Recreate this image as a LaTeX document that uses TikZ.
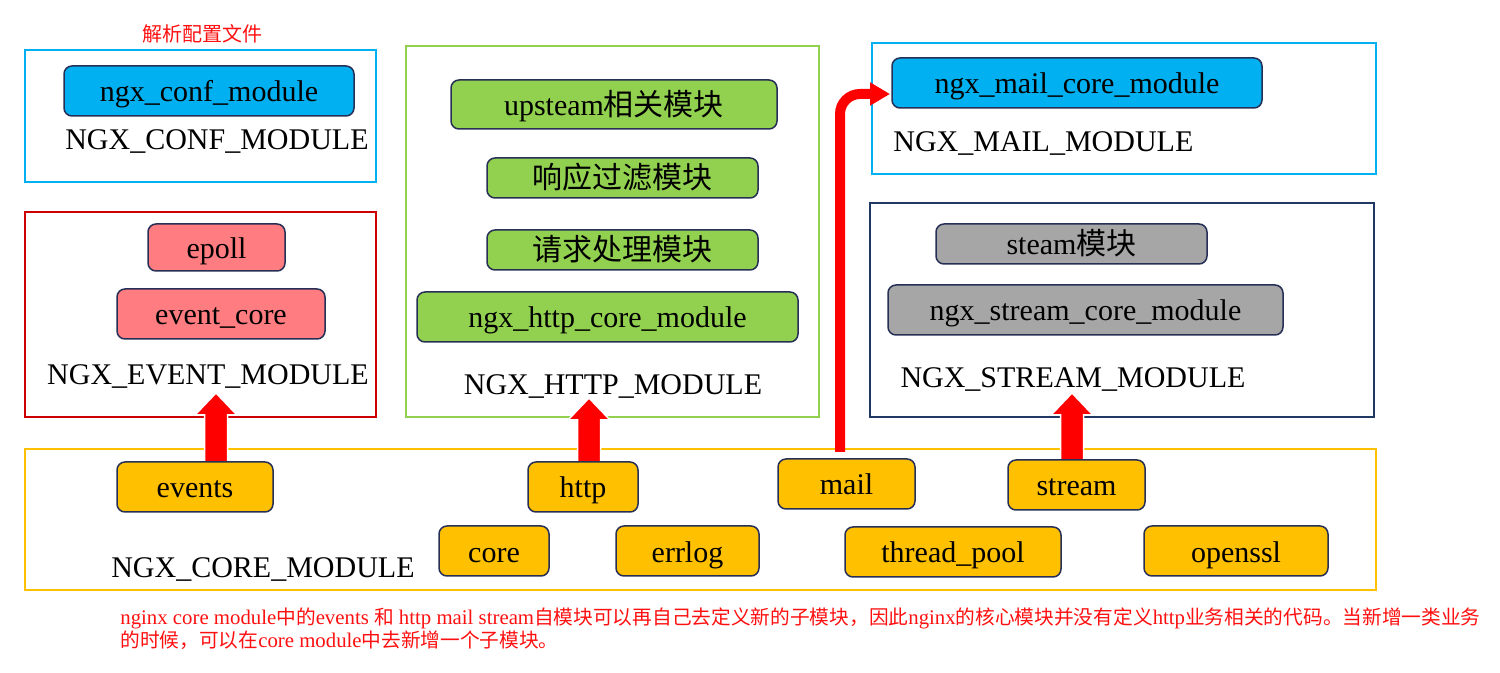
\documentclass[tikz,border=0pt]{standalone}
\usepackage{fontspec}
\setmainfont{Liberation Serif}
\newfontfamily\cjk{Noto Sans CJK SC}
\newfontfamily\notecjk{Noto Sans CJK SC}[Scale=0.947]
\newfontfamily\notelat{Liberation Serif}
\usetikzlibrary{calc,arrows.meta}
\definecolor{cyanf}{HTML}{00B0F0}
\definecolor{greenf}{HTML}{92D050}
\definecolor{pinkf}{HTML}{FF7C80}
\definecolor{grayf}{HTML}{A6A6A6}
\definecolor{goldf}{HTML}{FFC000}
\definecolor{navyb}{HTML}{262F55}
\definecolor{redb}{HTML}{CC0000}
\definecolor{streamb}{HTML}{203864}
\definecolor{notered}{HTML}{FF1010}
\newcommand\zh[1]{{\cjk #1}}
\newcommand\nz[1]{{\notecjk #1}}
\newcommand\la[1]{{\notelat #1}}
\newcommand\barrow[2]{%
  \path[fill=red, draw=white, line width=0.75pt] let \p1=(#1), \p2=(#2) in
    (\x1-5.75pt,\y1) -- (\x1-5.75pt,\y2-11pt) -- (\x1-10.5pt,\y2-11pt) -- (\x1,\y2)
    -- (\x1+10.5pt,\y2-11pt) -- (\x1+5.75pt,\y2-11pt) -- (\x1+5.75pt,\y1) -- cycle;}
\begin{document}
\begin{tikzpicture}[x=0.5pt,y=-0.5pt,
  mod/.style={draw=navyb, line width=0.75pt, rounded corners=4pt, inner sep=0pt,
    font=\fontsize{15}{18}\selectfont, text=black, text height=12pt, text depth=1pt},
  contbox/.style={draw, line width=1pt, inner sep=0pt},
  lbl/.style={font=\fontsize{15}{18}\selectfont, inner sep=0pt, text height=12pt, text depth=1pt},
  corem/.style={mod, fill=goldf, minimum height=25pt},
  mailarrow/.style={draw=red, line width=5pt, rounded corners=10pt,
    -{Triangle[width=11pt,length=10pt]}}
]
\useasboundingbox (0,0) rectangle (1500,673);
% containers
\node[contbox, draw=cyanf, minimum width=175.5pt, minimum height=66pt] (confbox) at (200.5,116) {};
\node[contbox, draw=redb, minimum width=175.5pt, minimum height=102.5pt] (eventbox) at (200.5,314.5) {};
\node[contbox, draw=greenf, minimum width=206.5pt, minimum height=185.5pt] (httpbox) at (612.5,231.5) {};
\node[contbox, draw=cyanf, minimum width=252pt, minimum height=65.5pt] (mailbox) at (1124,108.5) {};
\node[contbox, draw=streamb, minimum width=252pt, minimum height=107pt] (streambox) at (1122,310) {};
\node[contbox, draw=goldf, minimum width=675.5pt, minimum height=70.5pt] (corebox) at (700.5,519.5) {};
% title
\node[inner sep=0pt, text=notered, font=\cjk\fontsize{10}{12}\selectfont] (title) at (202,34) {解析配置文件};
% conf
\node[mod, fill=cyanf, minimum width=145pt, minimum height=25pt] (conf) at (209,91) {ngx\_conf\_module};
\node[lbl] (conflbl) at (217,139) {NGX\_CONF\_MODULE};
% event
\node[mod, fill=pinkf, minimum width=68.5pt, minimum height=23.5pt] (epoll) at (216.5,247.5) {epoll};
\node[mod, fill=pinkf, minimum width=104pt, minimum height=25pt] (evcore) at (221,314) {event\_core};
\node[lbl] (eventlbl) at (208,374) {NGX\_EVENT\_MODULE};
% http
\node[mod, fill=greenf, minimum width=163pt, minimum height=24.5pt] (upstream) at (614,104.5) {upsteam\zh{相关模块}};
\node[mod, fill=greenf, minimum width=135.5pt, minimum height=20pt] (filter) at (622.5,178) {\zh{响应过滤模块}};
\node[mod, fill=greenf, minimum width=135.5pt, minimum height=20pt] (reqproc) at (622.5,250) {\zh{请求处理模块}};
\node[mod, fill=greenf, minimum width=190.5pt, minimum height=25pt] (httpcore) at (607.5,317) {ngx\_http\_core\_module};
\node[lbl] (httplbl) at (613,384) {NGX\_HTTP\_MODULE};
% mail
\node[mod, fill=cyanf, minimum width=185pt, minimum height=25pt] (mailcore) at (1077,83) {ngx\_mail\_core\_module};
\node[lbl, anchor=west] (maillbl) at (893,141) {NGX\_MAIL\_MODULE};
% stream
\node[mod, fill=grayf, minimum width=135.5pt, minimum height=20pt] (steam) at (1071.5,244) {steam\zh{模块}};
\node[mod, fill=grayf, minimum width=197.5pt, minimum height=25pt] (streamcore) at (1085.5,310) {ngx\_stream\_core\_module};
\node[lbl] (streamlbl) at (1073,377) {NGX\_STREAM\_MODULE};
% core label
\node[lbl] (corelbl) at (263,567) {NGX\_CORE\_MODULE};
% arrows (coordinates)
\coordinate (ea) at (216,393);
\coordinate (ha) at (589,398);
\coordinate (sa) at (1072,393);
\coordinate (mx) at (840,452);
\coordinate (mt) at (890,94);
\barrow{216,465}{ea}
\barrow{589,465}{ha}
\barrow{1072,463}{sa}
\draw[mailarrow] (mx) |- (mt);
% core nodes
\node[corem, minimum width=78pt] (events) at (195,487) {events};
\node[corem, minimum width=55pt] (http) at (583,487) {http};
\node[corem, minimum width=68.5pt] (mail) at (846.5,484) {mail};
\node[corem, minimum width=68.5pt] (stream) at (1076.5,485) {stream};
\node[corem, minimum width=55pt] (core) at (494,551) {core};
\node[corem, minimum width=71.5pt] (errlog) at (687.5,551) {errlog};
\node[corem, minimum width=108pt] (threadpool) at (953,552) {thread\_pool};
\node[corem, minimum width=92pt] (openssl) at (1236,551) {openssl};
% note
\node[anchor=north west, inner sep=0pt, align=left, text=notered,
  font=\fontsize{10.4}{10}\selectfont] (note) at (120,607)
  {\la{nginx core module}\nz{中的}\la{events }\nz{和}\la{ http mail stream}\nz{自模块可以再自己去定义新的子模块，因此}\la{nginx}\nz{的核心模块并没有定义}\la{http}\nz{业务相关的代码。当新增一类业务}\\
   \nz{的时候，可以在}\la{core module}\nz{中去新增一个子模块。}};
\end{tikzpicture}
\end{document}
